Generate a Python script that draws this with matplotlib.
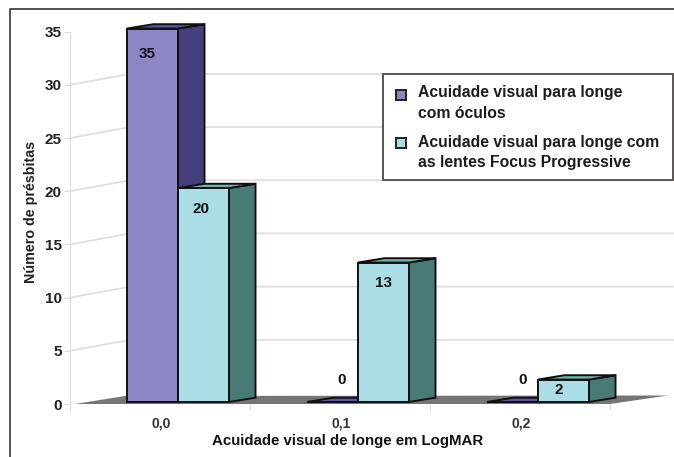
import matplotlib
matplotlib.use("Agg")
import matplotlib.pyplot as plt
from matplotlib.patches import Polygon, Rectangle
from matplotlib.lines import Line2D

plt.rcParams['font.family'] = ['Liberation Sans', 'DejaVu Sans']

categories = ['0,0', '0,1', '0,2']
oculos = [35, 0, 0]
lentes = [20, 13, 2]
y_ticks = [0, 5, 10, 15, 20, 25, 30, 35]

W, H = 674, 457
# pixel placement of the plot: x 0..3 = 70..610 px, y 0..35 = 404..31.7 px
X0, X1, Y0, Y35 = 70, 610, 404, 31.7
PX_X = (X1 - X0) / 3
PX_Y = (Y0 - Y35) / 35

# 3D look, in data units
BAR_W = 51 / PX_X
BAR_DX = 26.5 / PX_X
BAR_DY = 4.3 / PX_Y
BAR_BASE = 0.19
BAR_TOP = 0.3
BAR_MID = 0.6  # where the two bars of a group meet
WALL_DX = 60 / PX_X
WALL_DY = 11 / PX_Y

TEXT = '#222222'
GRID = '#dcdcdc'


def px(x, y):
    return x / W, 1 - y / H


fig = plt.figure(figsize=(W / 100, H / 100), dpi=100)
ax = fig.add_axes([X0 / W, 1 - Y0 / H, (X1 - X0) / W, (Y0 - Y35) / H])
ax.set_xlim(0, 3)
ax.set_ylim(0, 35)
for s in ['top', 'right', 'bottom']:
    ax.spines[s].set_visible(False)
ax.spines['left'].set_color(GRID)
ax.spines['left'].set_bounds(-0.6, 35)
ax.spines['left'].set_zorder(0)
ax.patch.set_visible(False)

ax.set_yticks(y_ticks)
ax.tick_params(axis='y', length=4, color=GRID, labelsize=11, labelcolor=TEXT, pad=2)
for lab in ax.get_yticklabels():
    lab.set_fontweight('bold')
ax.set_xticks([1, 2, 3])
ax.set_xticklabels([])
ax.tick_params(axis='x', length=4.5, color=GRID)
for i, c in enumerate(categories):
    ax.annotate(c, xy=(i + 0.505, 0), xytext=(0, -14), textcoords='offset points', ha='center',
                va='center', fontsize=10, fontweight='bold', color='#333333',
                annotation_clip=False)

# walls and floor
for v in y_ticks[1:-1]:
    ax.plot([0, WALL_DX, 3 + 63 / PX_X], [v, v + WALL_DY, v + WALL_DY], color=GRID, lw=1.2,
            clip_on=False, zorder=1, solid_joinstyle='miter')
ax.add_patch(Polygon([(5 / PX_X, 0), (55 / PX_X, 8 / PX_Y), (3 + 58 / PX_X, 8.5 / PX_Y), (3, 0)],
                     closed=True, fc='#757575', ec='none', clip_on=False, zorder=2))


def draw_bar(x, value, front, side, top):
    y = value + BAR_TOP if value > 0 else BAR_BASE
    ax.add_patch(Polygon([(x + BAR_W, BAR_BASE), (x + BAR_W + BAR_DX, BAR_BASE + BAR_DY),
                          (x + BAR_W + BAR_DX, y + BAR_DY), (x + BAR_W, y)],
                         closed=True, fc=side, ec='#111111', lw=1.4, clip_on=False, zorder=3))
    ax.add_patch(Polygon([(x, y), (x + BAR_DX, y + BAR_DY), (x + BAR_W + BAR_DX, y + BAR_DY),
                          (x + BAR_W, y)],
                         closed=True, fc=top, ec='#111111', lw=1.4, clip_on=False, zorder=3))
    ax.bar(x, y - BAR_BASE, BAR_W, bottom=BAR_BASE, align='edge', color=front, edgecolor='#111111',
           lw=1.4, clip_on=False, zorder=4)


# label offsets in px from the front-top centre of each bar
oculos_off = [(-5, -25), (9, 21), (10, 21)]
lentes_off = [(-2.5, -21), (-0.5, -20), (-5, -10)]

for i in range(3):
    x = i + BAR_MID - BAR_W
    xr = i + BAR_MID
    draw_bar(x, oculos[i], '#8b87c4', '#453f7d', '#5b56a0')
    draw_bar(xr, lentes[i], '#abdde6', '#4a7a75', '#6fb5ae')
    for xb, v, off in [(x, oculos[i], oculos_off[i]), (xr, lentes[i], lentes_off[i])]:
        ax.annotate(str(v), xy=(xb + BAR_W / 2, v + BAR_TOP),
                    xytext=(off[0] * 0.72, off[1] * 0.72), textcoords='offset points',
                    ha='center', va='center', fontsize=11, fontweight='bold', color='#111111',
                    zorder=6, annotation_clip=False)

# axis titles
fig.text(*px(347.5, 441), 'Acuidade visual de longe em LogMAR', ha='center', va='center',
         fontsize=10.85, fontweight='bold', color='#111111')
fig.text(*px(31, 211.5), 'Número de présbitas', rotation=90, ha='center', va='center',
         fontsize=10.3, fontweight='bold', color=TEXT)

# frame
fig.add_artist(Line2D([px(10, 0)[0], px(10, 0)[0], 1], [0, px(0, 8.7)[1], px(0, 8.7)[1]],
                      color='#333333', lw=1.2))

# legend box
fig.add_artist(Rectangle(px(383, 180), 289.5 / W, 106 / H, fc='white', ec='#5a5552', lw=1.4,
                         transform=fig.transFigure, zorder=5))
for y, color in [(94.5, '#8b87c4'), (142.5, '#abdde6')]:
    fig.add_artist(Rectangle(px(396, y + 5), 10 / W, 10 / H, fc=color, ec='#222222', lw=1.4,
                             transform=fig.transFigure, zorder=6))
legend_lines = [(93, 'Acuidade visual para longe'), (113, 'com óculos'),
                (142, 'Acuidade visual para longe com'), (162, 'as lentes Focus Progressive')]
for y, line in legend_lines:
    t = fig.text(*px(418, y), line, ha='left', va='center', fontsize=11.3, fontweight='bold',
                 color='#1c1c1c', zorder=6)
ax.annotate('®', xy=(1, 1), xycoords=t, xytext=(0.5, -1.5), textcoords='offset points', ha='left',
            va='center', fontsize=6.5, fontweight='bold', color='#1c1c1c', zorder=7,
            annotation_clip=False)

fig.savefig('out.png', dpi=100)
